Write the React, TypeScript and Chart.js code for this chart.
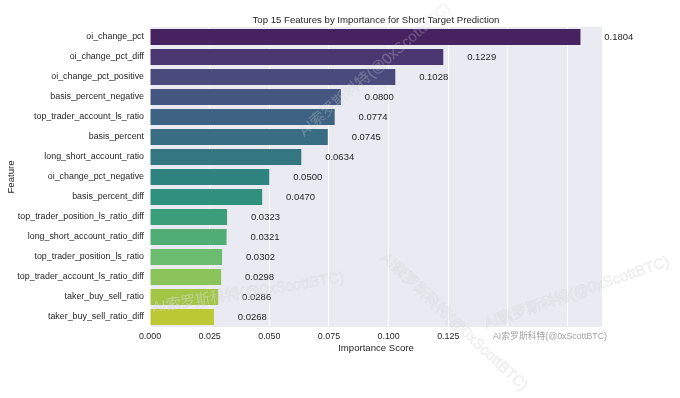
import React, { useEffect, useRef } from 'react';
import { Chart, registerables } from 'chart.js';

Chart.register(...registerables);

const features = [
  'oi_change_pct',
  'oi_change_pct_diff',
  'oi_change_pct_positive',
  'basis_percent_negative',
  'top_trader_account_ls_ratio',
  'basis_percent',
  'long_short_account_ratio',
  'oi_change_pct_negative',
  'basis_percent_diff',
  'top_trader_position_ls_ratio_diff',
  'long_short_account_ratio_diff',
  'top_trader_position_ls_ratio',
  'top_trader_account_ls_ratio_diff',
  'taker_buy_sell_ratio',
  'taker_buy_sell_ratio_diff',
];

const importance = [
  0.1804, 0.1229, 0.1028, 0.08, 0.0774, 0.0745, 0.0634, 0.05, 0.047, 0.0323,
  0.0321, 0.0302, 0.0298, 0.0286, 0.0268,
];

const xTickValues = [0, 0.025, 0.05, 0.075, 0.1, 0.125, 0.15, 0.175];
const xTickLabels = ['0.000', '0.025', '0.050', '0.075', '0.100', '0.125', '', ''];

const viridisSamples = [
  '#48186a', '#472d7b', '#424186', '#3b528b', '#33638d', '#2c728e', '#27808e',
  '#21918c', '#1fa088', '#29af7f', '#40bd72', '#5ec962', '#89d548', '#addc30',
  '#d2e21b',
];

const titleText = 'Top 15 Features by Importance for Short Target Prediction';
const xTitle = 'Importance Score';
const yTitle = 'Feature';
const watermark = 'AI索罗斯科特(@0xScottBTC)';

const FONT = '"Liberation Sans", Arial, Helvetica, sans-serif';
const WM_FONT = '"Liberation Sans", Arial, "Noto Sans CJK SC", sans-serif';
const TEXT = '#262626';

function desaturate(hex: string, prop: number): string {
  const r = parseInt(hex.slice(1, 3), 16) / 255;
  const g = parseInt(hex.slice(3, 5), 16) / 255;
  const b = parseInt(hex.slice(5, 7), 16) / 255;
  const mx = Math.max(r, g, b);
  const mn = Math.min(r, g, b);
  const l = (mx + mn) / 2;
  let h = 0;
  let s = 0;
  if (mx !== mn) {
    const d = mx - mn;
    s = l <= 0.5 ? d / (mx + mn) : d / (2 - mx - mn);
    if (mx === r) h = ((g - b) / d) % 6;
    else if (mx === g) h = (b - r) / d + 2;
    else h = (r - g) / d + 4;
    h /= 6;
    if (h < 0) h += 1;
  }
  s *= prop;
  const m2 = l <= 0.5 ? l * (1 + s) : l + s - l * s;
  const m1 = 2 * l - m2;
  const v = (hh: number) => {
    hh = ((hh % 1) + 1) % 1;
    if (hh < 1 / 6) return m1 + (m2 - m1) * hh * 6;
    if (hh < 0.5) return m2;
    if (hh < 2 / 3) return m1 + (m2 - m1) * (2 / 3 - hh) * 6;
    return m1;
  };
  const rr = s === 0 ? l : v(h + 1 / 3);
  const gg = s === 0 ? l : v(h);
  const bb = s === 0 ? l : v(h - 1 / 3);
  const to = (x: number) => Math.round(x * 255);
  return `rgb(${to(rr)},${to(gg)},${to(bb)})`;
}

const barColors = viridisSamples.map((c) => desaturate(c, 0.75));

const bgPlugin = {
  id: 'bgPlugin',
  beforeDraw(chart: any) {
    const { ctx, chartArea } = chart;
    ctx.save();
    ctx.fillStyle = '#ffffff';
    ctx.fillRect(0, 0, chart.width, chart.height);
    ctx.fillStyle = '#eaeaf2';
    ctx.fillRect(
      chartArea.left,
      chartArea.top,
      chartArea.right - chartArea.left,
      chartArea.bottom - chartArea.top
    );
    ctx.restore();
  },
};

function drawWm(
  ctx: CanvasRenderingContext2D,
  cx: number,
  cy: number,
  deg: number,
  size: number,
  strength: number
) {
  ctx.save();
  ctx.translate(cx, cy);
  ctx.rotate((deg * Math.PI) / 180);
  ctx.font = `${size}px ${WM_FONT}`;
  ctx.textAlign = 'center';
  ctx.textBaseline = 'middle';
  ctx.lineJoin = 'round';
  ctx.lineWidth = 0.8;
  ctx.strokeStyle = `rgba(150,150,155,${0.14 * strength})`;
  ctx.strokeText(watermark, 0, 0);
  ctx.fillStyle = `rgba(235,235,238,${0.4 * strength})`;
  ctx.fillText(watermark, 0, 0);
  ctx.restore();
}

const textPlugin = {
  id: 'textPlugin',
  afterDraw(chart: any) {
    const { ctx, chartArea } = chart;
    const xs = chart.scales.x;
    const ys = chart.scales.y;
    const cx = (chartArea.left + chartArea.right) / 2;
    const cy = (chartArea.top + chartArea.bottom) / 2;
    ctx.save();
    ctx.fillStyle = TEXT;
    // title
    ctx.font = `9.6px ${FONT}`;
    ctx.textAlign = 'center';
    ctx.textBaseline = 'alphabetic';
    ctx.fillText(titleText, cx, chartArea.top - 4);
    // x title
    ctx.font = `9.6px ${FONT}`;
    ctx.fillText(xTitle, cx, chartArea.bottom + 24);
    // y title
    ctx.save();
    ctx.translate(14, cy);
    ctx.rotate(-Math.PI / 2);
    ctx.textAlign = 'center';
    ctx.textBaseline = 'alphabetic';
    ctx.fillText(yTitle, 0, 0);
    ctx.restore();
    // value labels
    ctx.font = `9.5px ${FONT}`;
    ctx.textAlign = 'left';
    ctx.textBaseline = 'middle';
    importance.forEach((v, i) => {
      const px = xs.getPixelForValue(v + 0.01);
      const py = ys.getPixelForValue(i);
      ctx.fillText(v.toFixed(4), px, py);
    });
    ctx.restore();

    // watermarks
    drawWm(ctx, 375, 70, -41, 15, 0.6);
    drawWm(ctx, 248, 293, -9, 15, 1);
    drawWm(ctx, 454, 322, 43, 15, 1);
    drawWm(ctx, 577, 293, -19, 15, 1);
    ctx.save();
    ctx.font = `8.8px ${WM_FONT}`;
    ctx.textAlign = 'left';
    ctx.textBaseline = 'middle';
    ctx.fillStyle = '#a3a3a3';
    ctx.fillText(watermark, 493, chartArea.bottom + 10);
    ctx.restore();
  },
};

export default function App() {
  const ref = useRef<HTMLCanvasElement>(null);
  useEffect(() => {
    const canvas = ref.current;
    if (!canvas) return;
    const xMax = Math.max(...importance) * 1.05;
    const chart = new Chart(canvas, {
      type: 'bar',
      data: {
        labels: features,
        datasets: [
          {
            data: importance,
            backgroundColor: barColors,
            borderWidth: 0,
            barPercentage: 0.8,
            categoryPercentage: 1,
          },
        ],
      },
      options: {
        indexAxis: 'y',
        animation: false,
        responsive: false,
        devicePixelRatio: 1,
        layout: { padding: { left: 0, top: 27, right: 78, bottom: 0 } },
        plugins: {
          legend: { display: false },
          tooltip: { enabled: false },
          title: { display: false },
        },
        scales: {
          x: {
            type: 'linear',
            min: 0,
            max: xMax,
            afterBuildTicks: (s: any) => {
              s.ticks = xTickValues.map((v) => ({ value: v }));
            },
            afterFit: (s: any) => {
              s.height = 71;
            },
            ticks: {
              autoSkip: false,
              maxRotation: 0,
              padding: 4,
              color: TEXT,
              font: { family: FONT, size: 8.9 },
              callback: (_v: any, i: number) => xTickLabels[i],
            },
            grid: { color: '#ffffff', lineWidth: 1, drawTicks: false },
            border: { display: false },
          },
          y: {
            afterFit: (s: any) => {
              s.width = 150;
            },
            ticks: {
              autoSkip: false,
              padding: 6,
              color: TEXT,
              font: { family: FONT, size: 8.9 },
            },
            grid: { display: false, drawTicks: false },
            border: { display: false },
          },
        },
      } as any,
      plugins: [bgPlugin, textPlugin],
    });
    return () => chart.destroy();
  }, []);
  return (
    <div style={{ position: 'fixed', left: 0, top: 0, width: 680, height: 398, background: '#fff' }}>
      <canvas ref={ref} width={680} height={398} style={{ display: 'block', width: 680, height: 398 }} />
    </div>
  );
}
